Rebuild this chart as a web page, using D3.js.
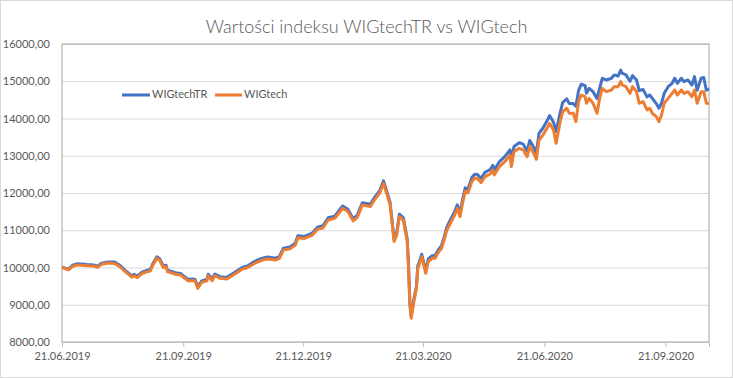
<!DOCTYPE html>
<html>
<head>
<meta charset="utf-8">
<script src="https://cdn.jsdelivr.net/npm/d3@7"></script>
<style>
  body { margin: 0; background: #fff; }
  text { font-family: Lato, "Open Sans", sans-serif; }
</style>
</head>
<body>
<svg id="chart"></svg>
<script>
// -- DATA --
const chartTitle = "Wartości indeksu WIGtechTR vs WIGtech";
const seriesNames = ["WIGtechTR", "WIGtech"];
const xTickLabels = ["21.06.2019", "21.09.2019", "21.12.2019", "21.03.2020", "21.06.2020", "21.09.2020"];
const yTicks = [8000, 9000, 10000, 11000, 12000, 13000, 14000, 15000, 16000];

const dates = [
  "2019-06-21", "2019-06-26", "2019-06-29", "2019-07-03", "2019-07-10", "2019-07-15", "2019-07-18", "2019-07-21",
  "2019-07-26", "2019-07-31", "2019-08-04", "2019-08-08", "2019-08-13", "2019-08-15", "2019-08-17", "2019-08-21",
  "2019-08-25", "2019-08-27", "2019-08-29", "2019-09-01", "2019-09-03", "2019-09-06", "2019-09-08", "2019-09-09",
  "2019-09-15", "2019-09-19", "2019-09-22", "2019-09-25", "2019-09-28", "2019-09-30", "2019-10-02", "2019-10-05",
  "2019-10-09", "2019-10-10", "2019-10-13", "2019-10-15", "2019-10-19", "2019-10-24", "2019-10-29", "2019-11-05",
  "2019-11-09", "2019-11-14", "2019-11-20", "2019-11-24", "2019-11-30", "2019-12-03", "2019-12-06", "2019-12-11",
  "2019-12-15", "2019-12-17", "2019-12-22", "2019-12-28", "2020-01-01", "2020-01-05", "2020-01-09", "2020-01-14",
  "2020-01-16", "2020-01-20", "2020-01-24", "2020-01-28", "2020-01-31", "2020-02-04", "2020-02-10", "2020-02-13",
  "2020-02-17", "2020-02-20", "2020-02-25", "2020-02-28", "2020-03-01", "2020-03-03", "2020-03-06", "2020-03-09",
  "2020-03-10", "2020-03-11", "2020-03-12", "2020-03-14", "2020-03-16", "2020-03-17", "2020-03-18", "2020-03-20",
  "2020-03-23", "2020-03-25", "2020-03-28", "2020-03-30", "2020-04-02", "2020-04-04", "2020-04-06", "2020-04-08",
  "2020-04-10", "2020-04-14", "2020-04-16", "2020-04-18", "2020-04-20", "2020-04-22", "2020-04-24", "2020-04-27",
  "2020-04-29", "2020-05-01", "2020-05-04", "2020-05-07", "2020-05-11", "2020-05-13", "2020-05-14", "2020-05-18",
  "2020-05-22", "2020-05-26", "2020-05-27", "2020-05-29", "2020-06-02", "2020-06-05", "2020-06-08", "2020-06-10",
  "2020-06-13", "2020-06-15", "2020-06-17", "2020-06-20", "2020-06-23", "2020-06-25", "2020-06-28", "2020-06-30",
  "2020-07-03", "2020-07-05", "2020-07-08", "2020-07-10", "2020-07-13", "2020-07-15", "2020-07-17", "2020-07-19",
  "2020-07-22", "2020-07-23", "2020-07-25", "2020-07-28", "2020-07-31", "2020-08-02", "2020-08-04", "2020-08-07",
  "2020-08-11", "2020-08-13", "2020-08-16", "2020-08-18", "2020-08-19", "2020-08-22", "2020-08-25", "2020-08-27",
  "2020-08-30", "2020-09-01", "2020-09-04", "2020-09-07", "2020-09-09", "2020-09-11", "2020-09-14", "2020-09-16",
  "2020-09-18", "2020-09-20", "2020-09-23", "2020-09-26", "2020-09-28", "2020-09-30", "2020-10-03", "2020-10-05",
  "2020-10-08", "2020-10-11", "2020-10-13", "2020-10-15", "2020-10-18", "2020-10-20", "2020-10-22", "2020-10-24"
];

// WIGtechTR (blue)
const wigtechTR = [
  10010, 9955, 10060, 10100, 10080, 10070, 10035, 10115,
  10150, 10145, 10055, 9925, 9775, 9815, 9765, 9880,
  9925, 9945, 10110, 10285, 10240, 10035, 10060, 9930,
  9860, 9840, 9750, 9680, 9690, 9680, 9480, 9640,
  9680, 9820, 9690, 9825, 9755, 9735, 9845, 10005,
  10045, 10160, 10250, 10280, 10250, 10295, 10520, 10550,
  10655, 10855, 10835, 10925, 11085, 11120, 11335, 11380,
  11470, 11650, 11560, 11310, 11400, 11740, 11700, 11875,
  12055, 12325, 11745, 10760, 10935, 11430, 11340, 10765,
  10045, 9060, 8700, 9140, 9505, 10045, 10135, 10355,
  9910, 10230, 10315, 10315, 10495, 10590, 10815, 11080,
  11230, 11500, 11680, 11460, 11825, 12140, 12100, 12410,
  12500, 12505, 12395, 12555, 12630, 12745, 12610, 12845,
  12975, 13160, 12850, 13250, 13350, 13310, 13130, 13410,
  13230, 13080, 13600, 13745, 13930, 14080, 13900, 13650,
  14150, 14430, 14530, 14400, 14400, 14330, 14750, 14920,
  14880, 14675, 14810, 14720, 14540, 14810, 15080, 15035,
  15080, 15170, 15140, 15300, 15215, 15170, 15000, 15150,
  15035, 14750, 14780, 14580, 14630, 14540, 14400, 14275,
  14410, 14675, 14855, 14945, 15080, 14945, 15080, 14990,
  15035, 14900, 15125, 14760, 15080, 15100, 14760, 14800
];

// WIGtech (orange)
const wigtech = [
  10000, 9940, 10030, 10070, 10050, 10040, 10005, 10085,
  10120, 10110, 10020, 9890, 9740, 9780, 9730, 9845,
  9890, 9905, 10070, 10245, 10200, 9995, 10020, 9890,
  9820, 9800, 9710, 9640, 9650, 9640, 9440, 9600,
  9640, 9780, 9640, 9780, 9710, 9690, 9800, 9960,
  10000, 10110, 10200, 10230, 10200, 10245, 10470, 10500,
  10600, 10800, 10780, 10870, 11030, 11060, 11275, 11320,
  11410, 11590, 11500, 11250, 11340, 11680, 11635, 11810,
  11990, 12260, 11680, 10700, 10870, 11365, 11275, 10700,
  9980, 9000, 8640, 9080, 9440, 9980, 10070, 10290,
  9845, 10160, 10245, 10245, 10425, 10515, 10740, 11000,
  11140, 11410, 11590, 11365, 11725, 12040, 12000, 12305,
  12395, 12395, 12280, 12440, 12510, 12620, 12485, 12710,
  12840, 13020, 12710, 13110, 13200, 13155, 12975, 13245,
  13065, 12905, 13420, 13555, 13735, 13870, 13690, 13335,
  13915, 14185, 14275, 14140, 14140, 13915, 14450, 14630,
  14585, 14410, 14540, 14410, 14140, 14540, 14810, 14720,
  14765, 14855, 14855, 14990, 14900, 14855, 14675, 14855,
  14720, 14410, 14450, 14230, 14275, 14140, 14050, 13915,
  14095, 14410, 14540, 14675, 14765, 14630, 14765, 14675,
  14720, 14585, 14765, 14410, 14720, 14720, 14410, 14400
];

const seriesColors = ["#4472C4", "#ED7D31"];

// -- LAYOUT --
const svgW = 733;
const svgH = 378;
const margin = { top: 44, right: 24, bottom: 36, left: 62 };
const width = svgW - margin.left - margin.right;
const height = svgH - margin.top - margin.bottom;

const parseDay = d3.timeParse("%Y-%m-%d");
const parseTick = d3.timeParse("%d.%m.%Y");
const days = dates.map(parseDay);

const svg = d3
  .select("#chart")
  .attr("width", svgW)
  .attr("height", svgH);

// outer chart border
svg
  .append("rect")
  .attr("x", 0.5)
  .attr("y", 0.5)
  .attr("width", svgW - 1)
  .attr("height", svgH - 1)
  .style("fill", "#fff")
  .style("stroke", "#d9d9d9");

// title
svg
  .append("text")
  .attr("x", svgW / 2)
  .attr("y", 33)
  .attr("text-anchor", "middle")
  .style("font-size", "18px")
  .style("font-weight", 300)
  .style("fill", "#595959")
  .text(chartTitle);

const g = svg
  .append("g")
  .attr("transform", `translate(${margin.left}, ${margin.top})`);

// Scales & Axis
const x = d3
  .scaleTime()
  .domain([days[0], days[days.length - 1]])
  .range([0, width]);
const y = d3
  .scaleLinear()
  .domain([yTicks[0], yTicks[yTicks.length - 1]])
  .range([height, 0]);

const fmtY = (d) => d3.format(".2f")(d).replace(".", ",");

// gridlines + y labels
const yAxis = g
  .append("g")
  .call(
    d3.axisLeft(y)
      .tickValues(yTicks)
      .tickSize(-width)
      .tickPadding(12)
      .tickFormat(fmtY)
  );
yAxis.select(".domain").remove();
yAxis.selectAll(".tick line").style("stroke", "#d9d9d9");
yAxis
  .selectAll(".tick text")
  .style("font-size", "11px")
  .style("fill", "#595959")
  .style("font-family", "Lato, sans-serif");

// plot frame
g.append("rect")
  .attr("x", 0)
  .attr("y", 0)
  .attr("width", width)
  .attr("height", height)
  .style("fill", "none")
  .style("stroke", "#a6a6a6");

// x axis
const xAxis = g
  .append("g")
  .attr("transform", `translate(0, ${height})`)
  .call(
    d3.axisBottom(x)
      .tickValues(xTickLabels.map(parseTick))
      .tickSize(5)
      .tickPadding(5)
      .tickFormat(d3.timeFormat("%d.%m.%Y"))
  );
xAxis.select(".domain").style("stroke", "#bfbfbf");
xAxis.selectAll(".tick line").style("stroke", "#bfbfbf");
xAxis
  .selectAll(".tick text")
  .style("font-size", "11px")
  .style("fill", "#595959")
  .style("font-family", "Lato, sans-serif");

// Lines
const line = d3
  .line()
  .x((d, i) => x(days[i]))
  .y((d) => y(d));

[wigtechTR, wigtech].forEach((vals, k) => {
  g.append("path")
    .datum(vals)
    .attr("d", line)
    .style("fill", "none")
    .style("stroke", seriesColors[k])
    .style("stroke-width", 3)
    .style("stroke-linejoin", "round");
});

// Legend
const legendPos = [{ x: 122, w: 28 }, { x: 215, w: 27 }];
seriesNames.forEach((name, k) => {
  const p = legendPos[k];
  svg
    .append("line")
    .attr("x1", p.x)
    .attr("x2", p.x + p.w)
    .attr("y1", 95)
    .attr("y2", 95)
    .style("stroke", seriesColors[k])
    .style("stroke-width", 3);
  svg
    .append("text")
    .attr("x", p.x + p.w + 2)
    .attr("y", 95)
    .attr("dominant-baseline", "middle")
    .style("font-size", "11px")
    .style("fill", "#595959")
    .text(name);
});
</script>
</body>
</html>
